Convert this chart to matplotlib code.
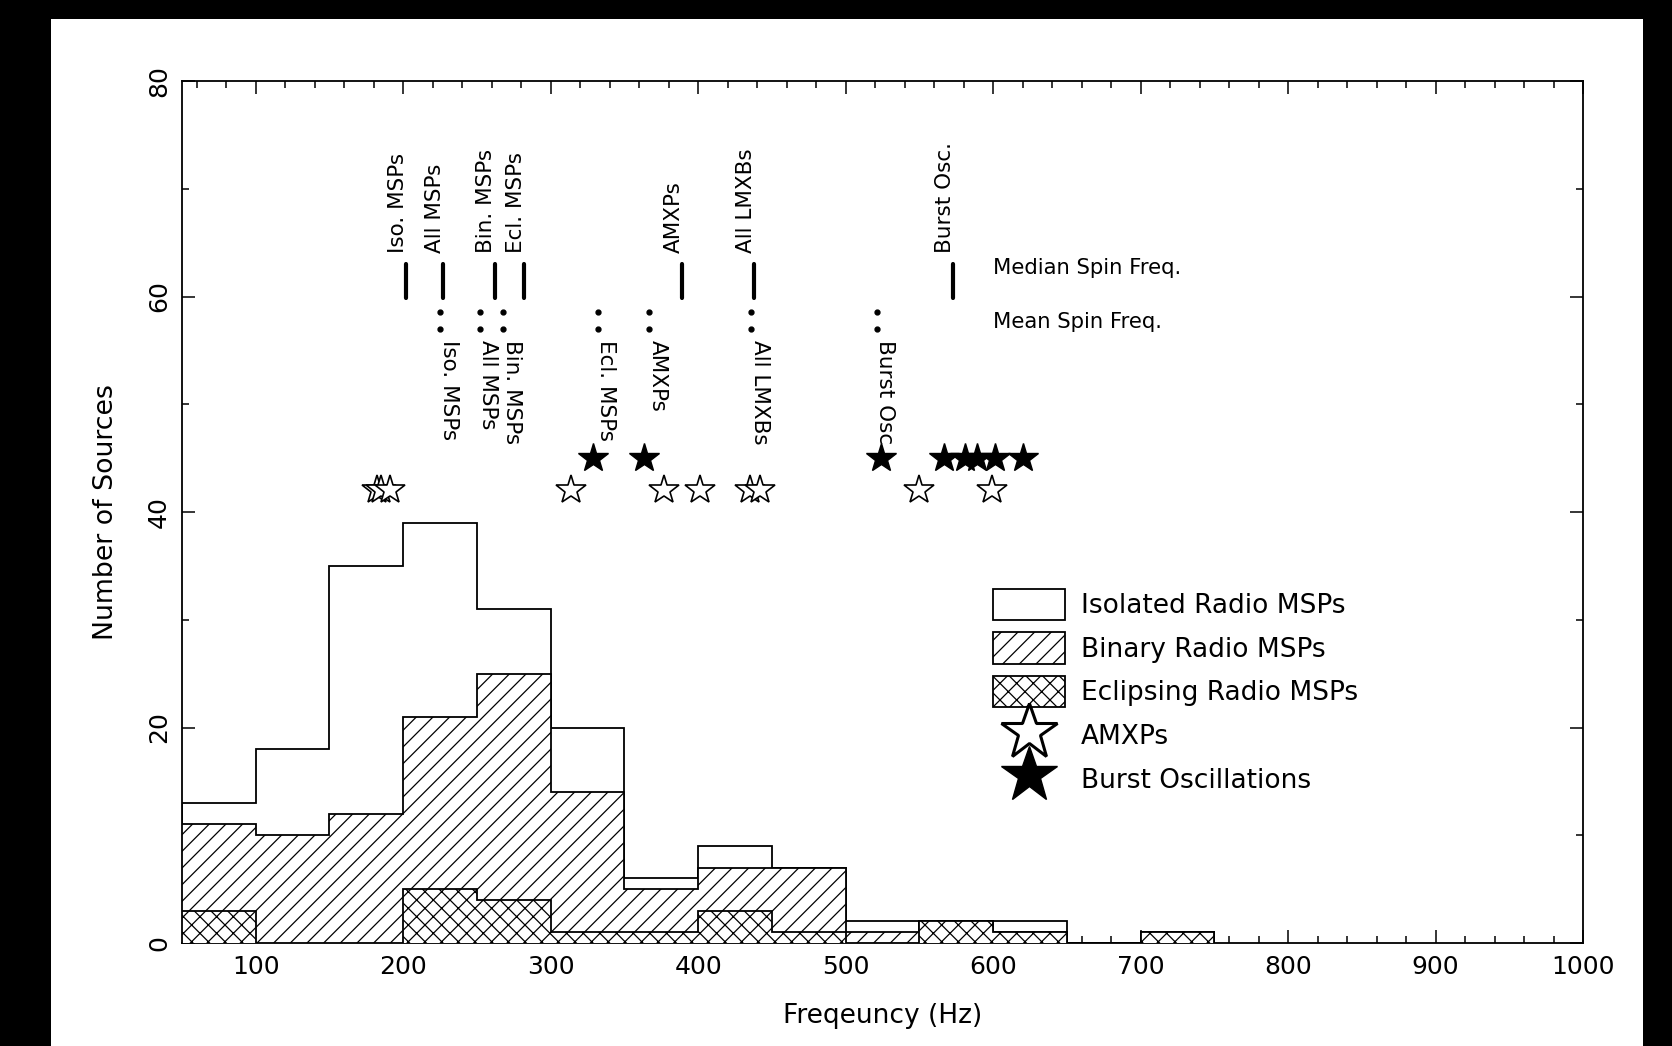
import matplotlib
matplotlib.use('Agg')
import matplotlib.pyplot as plt
import numpy as np
from matplotlib.patches import Patch, Rectangle
from matplotlib.lines import Line2D
from matplotlib.ticker import MultipleLocator

# ---------------- data ----------------
bin_edges = [50, 100, 150, 200, 250, 300, 350, 400, 450, 500, 550, 600, 650, 700, 750]
all_msps = [13, 18, 35, 39, 31, 20, 6, 9, 7, 2, 2, 2, 0, 1]        # isolated + binary
binary_msps = [11, 10, 12, 21, 25, 14, 5, 7, 7, 1, 2, 1, 0, 1]
eclipsing_msps = [3, 0, 0, 5, 4, 1, 1, 3, 1, 0, 2, 1, 0, 1]

amxp_freqs = [182, 185, 191, 314, 377, 401, 435, 442, 550, 599]
amxp_level = 42
burst_freqs = [329, 363, 524, 567, 581, 589, 601, 620]
burst_level = 45

median_labels = ['Iso. MSPs', 'All MSPs', 'Bin. MSPs', 'Ecl. MSPs', 'AMXPs', 'All LMXBs', 'Burst Osc.']
median_freqs = [202, 227, 262, 282, 389, 438, 573]
mean_labels = ['Iso. MSPs', 'All MSPs', 'Bin. MSPs', 'Ecl. MSPs', 'AMXPs', 'All LMXBs', 'Burst Osc.']
mean_freqs = [225, 252, 268, 332, 367, 436, 521]

x_ticks = [100, 200, 300, 400, 500, 600, 700, 800, 900, 1000]
y_ticks = [0, 20, 40, 60, 80]

# ---------------- figure ----------------
plt.rcParams['font.family'] = ['DejaVu Sans']
plt.rcParams['hatch.linewidth'] = 0.9
fig = plt.figure(figsize=(16.72, 10.46), dpi=100)
fig.patch.set_facecolor('black')
fig.patches.append(Rectangle((51 / 1672, 0), (1643 - 51) / 1672, (1046 - 19) / 1046,
                             transform=fig.transFigure, facecolor='white',
                             edgecolor='none', zorder=-10))

ax = fig.add_axes([182 / 1672, 103 / 1046, (1583 - 182) / 1672, (943 - 81) / 1046])
ax.set_zorder(1)
ax.set_facecolor('white')

lw = 1.3
ax.stairs(all_msps, bin_edges, fill=True, facecolor='white', edgecolor='black', lw=lw, zorder=2)
ax.stairs(binary_msps, bin_edges, fill=True, facecolor='white', edgecolor='black',
          hatch='//', lw=lw, zorder=3)
ax.stairs(eclipsing_msps, bin_edges, fill=True, facecolor='white', edgecolor='black',
          hatch='xx', lw=lw, zorder=4)

# stars
ax.plot(amxp_freqs, [amxp_level] * len(amxp_freqs), ls='none', marker='*', ms=22,
        mfc='white', mec='black', mew=1.2, zorder=5)
ax.plot(burst_freqs, [burst_level] * len(burst_freqs), ls='none', marker='*', ms=22,
        mfc='black', mec='black', mew=1.0, zorder=5)

# median markers
ax.vlines(median_freqs, 59.9, 63.0, colors='black', lw=3.0, capstyle='round', zorder=5)
for lab, f in zip(median_labels, median_freqs):
    ax.text(f + 1, 64.0, lab, rotation=90, ha='right', va='bottom', fontsize=15.5)

# mean markers (two dots each)
ax.plot(np.repeat(mean_freqs, 2), np.tile([57.0, 58.6], len(mean_freqs)), ls='none',
        marker='o', ms=3.5, color='black', zorder=5)
for lab, f in zip(mean_labels, mean_freqs):
    ax.text(f - 1, 56.0, lab, rotation=270, ha='left', va='top', fontsize=15.5)

ax.text(600, 62.6, 'Median Spin Freq.', ha='left', va='center', fontsize=15.2)
ax.text(600, 57.6, 'Mean Spin Freq.', ha='left', va='center', fontsize=15.2)

# legend
handles = [
    Patch(facecolor='white', edgecolor='black', lw=lw),
    Patch(facecolor='white', edgecolor='black', hatch='//', lw=lw),
    Patch(facecolor='white', edgecolor='black', hatch='xx', lw=lw),
    Line2D([], [], ls='none', marker='*', ms=42, mfc='white', mec='black', mew=2.2),
    Line2D([], [], ls='none', marker='*', ms=42, mfc='black', mec='black'),
]
labels = ['Isolated Radio MSPs', 'Binary Radio MSPs', 'Eclipsing Radio MSPs',
          'AMXPs', 'Burst Oscillations']
leg = ax.legend(handles, labels, loc='upper left', bbox_to_anchor=(600, 32.9),
                bbox_transform=ax.transData, frameon=False, fontsize=19,
                handlelength=2.73, handleheight=1.46, labelspacing=0.46,
                handletextpad=0.6, borderpad=0, borderaxespad=0)

# axes
ax.set_xlim(50, 1000)
ax.set_ylim(0, 80)
ax.set_xticks(x_ticks)
ax.set_yticks(y_ticks)
ax.xaxis.set_minor_locator(MultipleLocator(20))
ax.yaxis.set_minor_locator(MultipleLocator(10))
ax.tick_params(which='both', direction='in', top=True, right=True, width=1.1)
ax.tick_params(which='major', length=9.5)
ax.tick_params(which='minor', length=4.7)
ax.tick_params(axis='x', labelsize=18, pad=9)
ax.tick_params(axis='y', labelsize=18, pad=8, labelrotation=90)
for t in ax.get_yticklabels():
    t.set_va('center')
for s in ax.spines.values():
    s.set_linewidth(1.3)

ax.set_xlabel('Freqeuncy (Hz)', fontsize=19, labelpad=17)
ax.set_ylabel('Number of Sources', fontsize=19.3, labelpad=20)

fig.savefig('out.png', dpi=100, facecolor=fig.get_facecolor())
